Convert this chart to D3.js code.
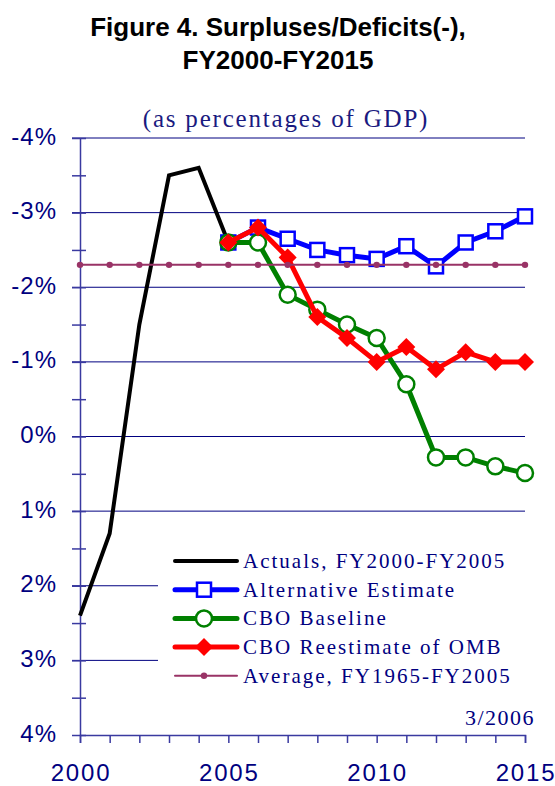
<!DOCTYPE html>
<html>
<head>
<meta charset="utf-8">
<script src="https://cdn.jsdelivr.net/npm/d3@7"></script>
<style>
  body { margin: 0; background: #fff; }
  svg { display: block; }
</style>
</head>
<body>
<script>
// data (surplus as % of GDP, negative = deficit)
var yrsActual = [2000, 2001, 2002, 2003, 2004, 2005];
var actuals = [2.4, 1.3, -1.5, -3.5, -3.6, -2.6];

var yrsProj = [2005, 2006, 2007, 2008, 2009, 2010, 2011, 2012, 2013, 2014, 2015];
var altEstimate = [-2.6, -2.8, -2.65, -2.5, -2.43, -2.38, -2.55, -2.28, -2.6, -2.75, -2.95];
var cboBaseline = [-2.6, -2.6, -1.9, -1.7, -1.5, -1.32, -0.7, 0.28, 0.28, 0.4, 0.49];
var cboReest = [-2.6, -2.8, -2.4, -1.6, -1.32, -1.0, -1.2, -0.9, -1.13, -1.0, -1.0];

var yrsAll = d3.range(2000, 2016);
var avgValue = -2.3;

var yTicks = [-4, -3, -2, -1, 0, 1, 2, 3, 4];
var xTickLabels = [2000, 2005, 2010, 2015];

var legendNames = ["Actuals, FY2000-FY2005", "Alternative Estimate", "CBO Baseline",
  "CBO Reestimate of OMB", "Average, FY1965-FY2005"];

///////////////////////////
// SVG
var W = 555, H = 786;
var svg = d3.select("body").append("svg")
  .attr("width", W).attr("height", H);

var navy = "#000080";
var axisClr = "#3a3aa0";
var x = d3.scaleLinear().domain([2000, 2015]).range([80, 525]);
var y = d3.scaleLinear().domain([-4, 4]).range([138, 735]);

// title
svg.append("text").attr("x", 278).attr("y", 36)
  .attr("text-anchor", "middle")
  .style("font", "bold 26px 'Liberation Sans', Arial, sans-serif")
  .text("Figure 4. Surpluses/Deficits(-),");
svg.append("text").attr("x", 278).attr("y", 69)
  .attr("text-anchor", "middle")
  .style("font", "bold 26px 'Liberation Sans', Arial, sans-serif")
  .text("FY2000-FY2015");
svg.append("text").attr("x", 286).attr("y", 127)
  .attr("text-anchor", "middle")
  .attr("fill", "#1a1a80")
  .style("font", "25px 'Liberation Serif', 'Times New Roman', serif")
  .style("letter-spacing", "1.8px")
  .text("(as percentages of GDP)");

// gridlines
svg.append("g").selectAll("line")
  .data(yTicks.slice(0, 8))
  .enter().append("line")
  .attr("x1", 72).attr("x2", 525)
  .attr("y1", function(d){ return y(d); })
  .attr("y2", function(d){ return y(d); })
  .attr("stroke", navy).attr("stroke-width", 1);

// y axis (minor ticks every half percent)
var yAxis = d3.axisLeft(y)
  .tickValues(d3.range(-4, 4.01, 0.5))
  .tickSize(0).tickFormat("");
var gy = svg.append("g").attr("transform", "translate(80,0)").call(yAxis);
gy.select(".domain").attr("stroke", axisClr).attr("stroke-width", 1.5);
gy.selectAll(".tick line").attr("x1", -8).attr("x2", 6)
  .attr("stroke", axisClr).attr("stroke-width", 1.5);

svg.append("g").selectAll("text")
  .data(yTicks)
  .enter().append("text")
  .attr("x", 57)
  .attr("y", function(d){ return y(d) + 6.5; })
  .attr("text-anchor", "end")
  .attr("fill", navy)
  .style("font", "24px 'Liberation Sans', Arial, sans-serif")
  .style("letter-spacing", "1px")
  .text(function(d){ return d + "%"; });

// x axis
var xAxis = d3.axisBottom(x).tickValues(yrsAll).tickSize(8).tickFormat("");
var gx = svg.append("g").attr("transform", "translate(0," + y(4) + ")").call(xAxis);
gx.select(".domain").attr("stroke", axisClr).attr("stroke-width", 1.5);
gx.selectAll(".tick line").attr("stroke", axisClr).attr("stroke-width", 1.5);

svg.append("g").selectAll("text")
  .data(xTickLabels)
  .enter().append("text")
  .attr("x", function(d){ return x(d) + 1; })
  .attr("y", 781)
  .attr("text-anchor", "middle")
  .attr("fill", navy)
  .style("font", "24px 'Liberation Sans', Arial, sans-serif")
  .style("letter-spacing", "1.8px")
  .text(function(d){ return d; });

// legend background hides the lower gridlines
svg.append("rect").attr("x", 158).attr("y", 540)
  .attr("width", 372).attr("height", 160).attr("fill", "#fff");

///////////////////////////
// SERIES
var line = d3.line();
function pts(yrs, vals){ return yrs.map(function(yr, i){ return [x(yr), y(vals[i])]; }); }

svg.append("path").attr("d", line(pts(yrsActual, actuals)))
  .attr("fill", "none").attr("stroke", "#000").attr("stroke-width", 4)
  .attr("stroke-linejoin", "miter");

var series = [
  {vals: altEstimate, color: "#0000ff", mark: "square"},
  {vals: cboBaseline, color: "#008000", mark: "circle"},
  {vals: cboReest, color: "#ff0000", mark: "diamond"}
];

function drawMarker(g, mark, color, cx, cy){
  if (mark == "square") {
    g.append("rect").attr("x", cx - 7).attr("y", cy - 7)
      .attr("width", 14).attr("height", 14)
      .attr("fill", "#fff").attr("stroke", color).attr("stroke-width", 2.5);
  } else if (mark == "circle") {
    g.append("circle").attr("cx", cx).attr("cy", cy).attr("r", 8)
      .attr("fill", "#fff").attr("stroke", color).attr("stroke-width", 2.5);
  } else if (mark == "diamond") {
    g.append("path")
      .attr("d", "M" + cx + "," + (cy - 9) + "L" + (cx + 9) + "," + cy +
        "L" + cx + "," + (cy + 9) + "L" + (cx - 9) + "," + cy + "Z")
      .attr("fill", color);
  } else if (mark == "dot") {
    g.append("circle").attr("cx", cx).attr("cy", cy).attr("r", 3.2).attr("fill", color);
  }
}

series.forEach(function(s){
  var g = svg.append("g");
  var p = pts(yrsProj, s.vals);
  g.append("path").attr("d", line(p))
    .attr("fill", "none").attr("stroke", s.color).attr("stroke-width", 5);
  p.forEach(function(q){ drawMarker(g, s.mark, s.color, q[0], q[1]); });
});

var avgColor = "#993366";
var gAvg = svg.append("g");
var pAvg = yrsAll.map(function(yr){ return [x(yr), y(avgValue)]; });
gAvg.append("path").attr("d", line(pAvg))
  .attr("fill", "none").attr("stroke", avgColor).attr("stroke-width", 2);
pAvg.forEach(function(q){ drawMarker(gAvg, "dot", avgColor, q[0], q[1]); });

///////////////////////////
// LEGEND
var legend = [
  {color: "#000", width: 4, mark: null},
  {color: "#0000ff", width: 5, mark: "square"},
  {color: "#008000", width: 5, mark: "circle"},
  {color: "#ff0000", width: 5, mark: "diamond"},
  {color: avgColor, width: 2, mark: "dot"}
];
legend.forEach(function(l, i){
  var ly = 561 + i * 28.7;
  var g = svg.append("g");
  g.append("line").attr("x1", 175).attr("x2", 237)
    .attr("y1", ly).attr("y2", ly)
    .attr("stroke", l.color).attr("stroke-width", l.width)
    .attr("stroke-linecap", "round");
  if (l.mark) drawMarker(g, l.mark, l.color, 204, ly);
  g.append("text").attr("x", 243).attr("y", ly + 7)
    .attr("fill", navy)
    .style("font", "21px 'Liberation Serif', 'Times New Roman', serif")
    .style("letter-spacing", "2px")
    .text(legendNames[i]);
});

svg.append("text").attr("x", 535).attr("y", 725)
  .attr("text-anchor", "end").attr("fill", navy)
  .style("font", "22px 'Liberation Serif', 'Times New Roman', serif")
  .style("letter-spacing", "1.5px")
  .text("3/2006");
</script>
</body>
</html>
